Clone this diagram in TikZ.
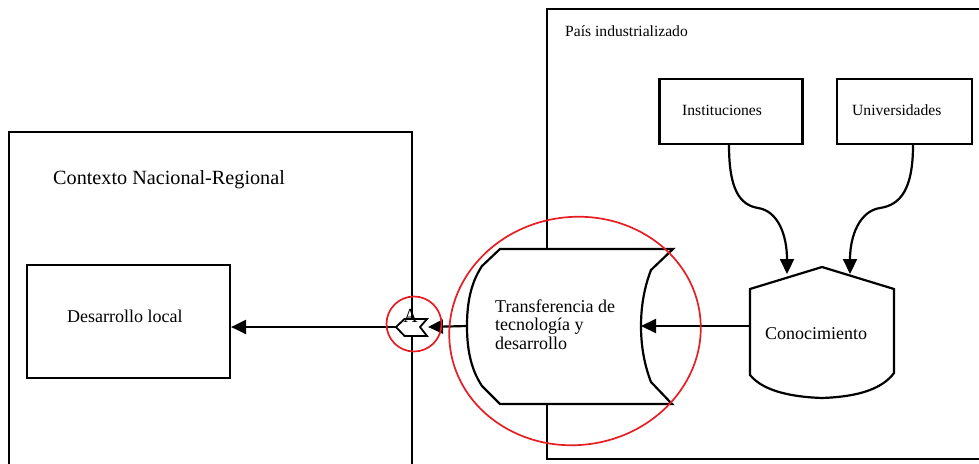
\documentclass[tikz,border=0pt]{standalone}
\usepackage{fontspec}
\setmainfont{Liberation Serif}
\usetikzlibrary{arrows.meta}
\definecolor{ringred}{RGB}{230,30,35}
\begin{document}
\begin{tikzpicture}[x=1pt,y=-1pt,
  ln/.style={line width=2.2pt},
  box/.style={draw, line width=2.2pt, rectangle, inner sep=0pt},
  arr/.style={line width=2.2pt, -{Triangle[length=15pt,width=14pt]}},
  redring/.style={draw=ringred, line width=1.7pt},
  lbl/.style={anchor=base west, inner sep=0pt},
  big/.style={font=\fontsize{20.2}{24}\selectfont},
  mid/.style={font=\fontsize{18}{18.5}\selectfont},
  small/.style={font=\fontsize{15.6}{18}\selectfont}
]
\useasboundingbox (0,0) rectangle (979,463);

% regions
\draw[ln] (9,470) -- (9,132) -- (412,132) -- (412,470);
\draw[ln] (990,9) -- (547,9) -- (547,459) -- (990,459);
\node[lbl, big] (ctx) at (53,184) {Contexto Nacional-Regional};
\node[lbl, small] (pais) at (565,36) {País industrializado};

% boxes
\node[box, minimum width=203, minimum height=113] (dl) at (128.5,321.5) {};
\node[lbl, mid] (dltxt) at (67,322) {Desarrollo local};
\node[box, minimum width=143, minimum height=65] (inst) at (731,111.5) {};
\node[lbl, small] (insttxt) at (682,115) {Instituciones};
\node[box, minimum width=135, minimum height=65] (univ) at (904.5,111.5) {};
\node[lbl, small] (univtxt) at (852,115) {Universidades};

% Conocimiento
\draw[ln, fill=white] (750,289) -- (822,267) -- (894,289) -- (894,373)
  .. controls (880,392) and (850,397) .. (822,398)
  .. controls (794,397) and (764,392) .. (750,375) -- cycle;
\node[lbl, mid] (contxt) at (765,339) {Conocimiento};
\coordinate (con) at (750,326);
\coordinate (k1) at (787,274);
\coordinate (k2) at (850,274);

% cylinder
\draw[ln, fill=white] (500,249) -- (673,249) -- (651,270)
  .. controls (644,288) and (641,307) .. (641,326)
  .. controls (641,345) and (644,364) .. (651,382) -- (672,404) -- (500,404) -- (482,386)
  .. controls (470,368) and (467,347) .. (467,326)
  .. controls (467,305) and (470,284) .. (482,266) -- cycle;
\coordinate (cylL) at (467,326);
\coordinate (cylR) at (641,326);
\node[lbl, mid, align=left] (tt) at (495,349) {Transferencia de\\tecnología y\\desarrollo};

% small symbol
\draw[line width=1.8pt, fill=white] (396,327) -- (404.5,319) -- (427,319) -- (420,327) -- (427,336) -- (404.5,336) -- cycle;
\node[inner sep=0pt, anchor=base, font=\fontsize{20}{20}\selectfont] (sa) at (410.5,322) {A};
\coordinate (symL) at (396,327);
\coordinate (symR) at (428,327);

% connectors
\draw[arr] ([xshift=-2pt]inst.south) .. controls (729,190) and (740,205) .. (758,208)
  .. controls (778,211) and (787,235) .. (k1);
\draw[arr] ([xshift=8.5pt]univ.south) .. controls (913,190) and (900,205) .. (880,208)
  .. controls (860,211) and (850,235) .. (k2);
\draw[arr] (con) -- (cylR);
\draw[arr] (cylL) -- (symR);
\draw[arr] (symL) -- (dl.east |- symL);

% red marks
\draw[redring] (414,324) circle (27.5);
\draw[redring, rotate around={8:(575,331)}] (575,331) ellipse (126 and 114);
\end{tikzpicture}
\end{document}
